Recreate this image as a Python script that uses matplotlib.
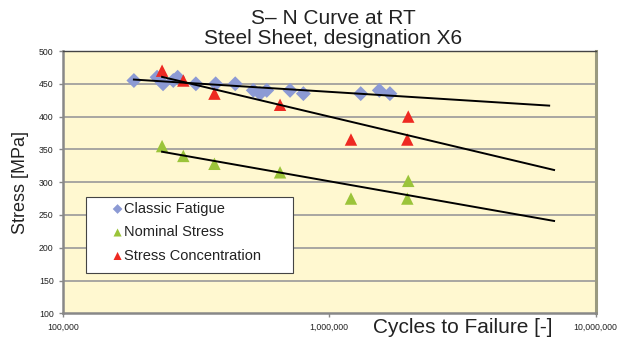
import numpy as np
import matplotlib.pyplot as plt
from matplotlib.patches import Rectangle
from matplotlib.ticker import FixedLocator, FuncFormatter, NullLocator

plt.rcParams['font.family'] = ['Liberation Sans', 'DejaVu Sans']

# 数据
classic_n = [185000, 226000, 238000, 260000, 270000, 316000, 375000, 444000,
             519000, 550000, 583000, 713000, 800000, 1313000, 1542000, 1690000]
classic_s = [455, 460, 450, 455, 460, 450, 450, 450,
             440, 435, 440, 440, 435, 435, 440, 435]

nominal_n = [236000, 283500, 371000, 654000, 1207000, 1964000, 1980000]
nominal_s = [355, 340, 328, 315, 275, 275, 302]

conc_n = [236000, 283500, 371000, 654000, 1207000, 1964000, 1980000]
conc_s = [470, 455, 435, 418, 365, 365, 400]

forecast = 5000000  # 趋势线向前预测

fig = plt.figure(figsize=(6.22, 3.41), dpi=100)
ax = fig.add_axes([0.1008, 0.0812, 0.8569, 0.7692])
ax.set_facecolor('#FFF8D0')

ax.set_xscale('log')
ax.set_xlim(1e5, 1e7)
ax.set_ylim(100, 500)

# 网格
for v in range(150, 500, 50):
    ax.axhline(v, color='#999999', lw=1.2, zorder=1)

# 对数趋势线
def trend(n, s):
    n = np.array(n, dtype=float)
    a, b = np.polyfit(np.log(n), np.array(s, dtype=float), 1)
    xs = np.array([n.min(), n.max() + forecast])
    return xs, a * np.log(xs) + b

ax.scatter(classic_n, classic_s, marker='D', s=58, color='#8C9AD4',
           edgecolors='none', zorder=3, label='Classic Fatigue')
ax.scatter(nominal_n, nominal_s, marker='^', s=80, color='#9BC43A',
           edgecolors='none', zorder=3, label='Nominal Stress')
ax.scatter(conc_n, conc_s, marker='^', s=80, color='#EE2A22',
           edgecolors='none', zorder=3, label='Stress Concentration')

for n, s in [(classic_n, classic_s), (conc_n, conc_s), (nominal_n, nominal_s)]:
    xs, ys = trend(n, s)
    ax.plot(xs, ys, color='black', lw=1.4, zorder=4)

# 坐标轴样式
ax.spines['top'].set_color('#444444')
ax.spines['top'].set_linewidth(1.0)
ax.spines['right'].set_color('#9A9A80')
ax.spines['right'].set_linewidth(2.2)
ax.spines['left'].set_color('#888888')
ax.spines['left'].set_linewidth(1.8)
ax.spines['bottom'].set_color('#888888')
ax.spines['bottom'].set_linewidth(1.8)

ax.yaxis.set_major_locator(FixedLocator(range(100, 501, 50)))
ax.xaxis.set_major_locator(FixedLocator([1e5, 1e6, 1e7]))
ax.xaxis.set_minor_locator(NullLocator())
ax.xaxis.set_major_formatter(FuncFormatter(lambda v, p: f'{int(v):,}'))
ax.tick_params(axis='both', labelsize=6.3, color='#888888', length=3, width=1,
               labelcolor='#222222')
ax.tick_params(axis='x', pad=4)

ax.set_ylabel('Stress [MPa]', fontsize=13, color='#222222', labelpad=7)
fig.text(0.744, 0.041, 'Cycles to Failure [-]', fontsize=15, color='#222222',
         ha='center', va='center')

fig.text(0.536, 0.945, 'S\u2013 N Curve at RT', fontsize=15, color='#222222',
         ha='center', va='center')
fig.text(0.536, 0.888, 'Steel Sheet, designation X6', fontsize=15, color='#222222',
         ha='center', va='center')

# 图例框
ax.add_patch(Rectangle((0.0437, 0.155), 0.3883, 0.2895, transform=ax.transAxes,
                       facecolor='white', edgecolor='#444444', lw=0.8, zorder=5))
leg = ax.legend(loc='upper left', bbox_to_anchor=(0.092, 0.425), fontsize=10.5,
                frameon=False, handletextpad=0.05, handlelength=0.8,
                labelspacing=0.65, borderpad=0, borderaxespad=0,
                markerscale=0.65)
leg.set_zorder(6)
for t in leg.get_texts():
    t.set_color('#222222')

fig.savefig('out.png', dpi=100)
